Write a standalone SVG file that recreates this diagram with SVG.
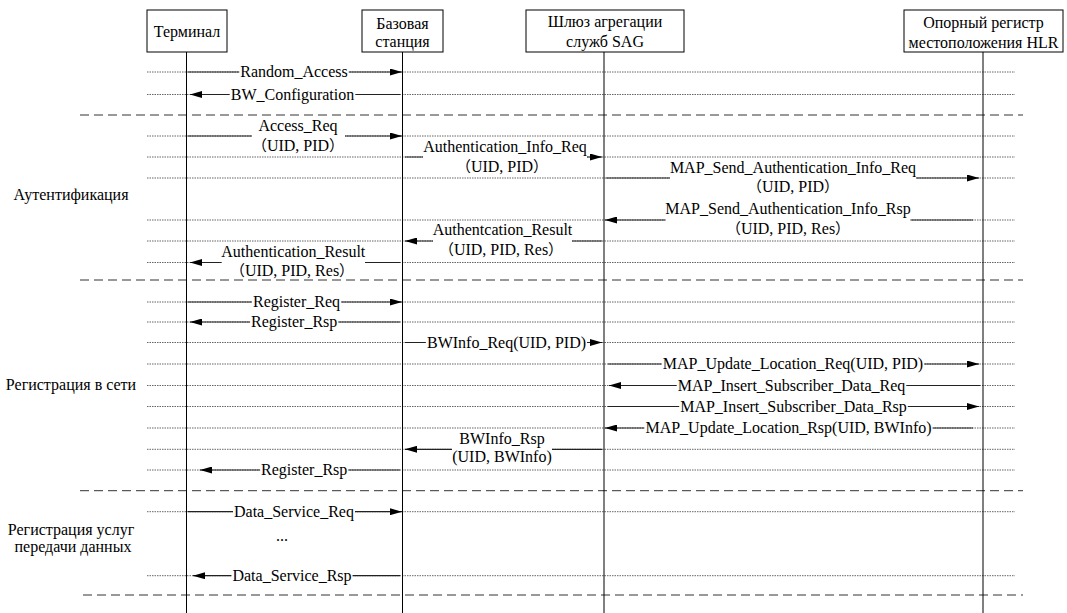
<svg xmlns="http://www.w3.org/2000/svg" width="1067" height="613" viewBox="0 0 1067 613">
<style>
.t{font-family:'Liberation Serif','Times New Roman',serif;font-size:16px;fill:#000;text-anchor:middle}
.c{font-family:'Noto Sans CJK SC',sans-serif;font-size:15px}
.box{fill:#fff;stroke:#000;stroke-width:1}
.life{stroke:#000;stroke-width:1}
.dot{stroke:#666;stroke-width:1;stroke-dasharray:1.5 1}
.dash{stroke:#333;stroke-width:1;stroke-dasharray:9 5}
.msg{stroke:#222;stroke-width:1.2;marker-end:url(#arr)}
.gap{fill:#fff}
</style>
<defs>
<marker id="arr" viewBox="0 0 12 7" refX="12" refY="3.5" markerWidth="12" markerHeight="7" markerUnits="userSpaceOnUse" orient="auto">
<path d="M0,0 L12,3.5 L0,7 z" fill="#000"/>
</marker>
</defs>
<rect width="1067" height="613" fill="#fff"/>
<g id="grid">
<line class="dot" x1="147" y1="72" x2="1015" y2="72"/>
<line class="dot" x1="147" y1="94.5" x2="1015" y2="94.5"/>
<line class="dot" x1="147" y1="136" x2="1015" y2="136"/>
<line class="dot" x1="147" y1="157" x2="1015" y2="157"/>
<line class="dot" x1="147" y1="178" x2="1015" y2="178"/>
<line class="dot" x1="147" y1="220" x2="1015" y2="220"/>
<line class="dot" x1="147" y1="241" x2="1015" y2="241"/>
<line class="dot" x1="147" y1="262.5" x2="1015" y2="262.5"/>
<line class="dot" x1="147" y1="302" x2="1015" y2="302"/>
<line class="dot" x1="147" y1="322" x2="1015" y2="322"/>
<line class="dot" x1="147" y1="342.5" x2="1015" y2="342.5"/>
<line class="dot" x1="147" y1="364" x2="1015" y2="364"/>
<line class="dot" x1="147" y1="385.5" x2="1015" y2="385.5"/>
<line class="dot" x1="147" y1="406.5" x2="1015" y2="406.5"/>
<line class="dot" x1="147" y1="428" x2="1015" y2="428"/>
<line class="dot" x1="147" y1="449.3" x2="1015" y2="449.3"/>
<line class="dot" x1="147" y1="470" x2="1015" y2="470"/>
<line class="dot" x1="147" y1="511.7" x2="1015" y2="511.7"/>
<line class="dot" x1="147" y1="575.7" x2="1015" y2="575.7"/>
<line class="dash" x1="80" y1="115" x2="1023" y2="115"/>
<line class="dash" x1="80" y1="280" x2="1023" y2="280"/>
<line class="dash" x1="80" y1="490.7" x2="1023" y2="490.7"/>
<line class="dash" x1="83" y1="595" x2="1023" y2="595"/>
</g>
<g id="lifelines">
<line class="life" x1="186.5" y1="52" x2="186.5" y2="613"/>
<line class="life" x1="402.5" y1="52" x2="402.5" y2="613"/>
<line class="life" x1="604" y1="52" x2="604" y2="613"/>
<line class="life" x1="983" y1="52" x2="983" y2="613"/>
</g>
<g id="connectors">
<g id="m-random-access"><line class="msg" x1="188" y1="72" x2="402" y2="72"/><rect class="gap" x="239.25" y="69" width="109.5" height="6"/><text class="t" x="294" y="77">Random_Access</text></g>
<g id="m-bw-configuration"><line class="msg" x1="400" y1="94.5" x2="190" y2="94.5"/><rect class="gap" x="229.7" y="91.5" width="125.6" height="6"/><text class="t" x="292.5" y="99.5">BW_Configuration</text></g>
<g id="m-access-req"><line class="msg" x1="188" y1="136" x2="402" y2="136"/><rect class="gap" x="252" y="133" width="93" height="6"/><text class="t" x="298" y="131">Access_Req</text><text class="t" x="298" y="151"><tspan class="c">（</tspan>UID, PID<tspan class="c">）</tspan></text></g>
<g id="m-auth-info-req"><line class="msg" x1="405" y1="157" x2="602" y2="157"/><rect class="gap" x="423" y="154" width="164" height="6"/><text class="t" x="505" y="152">Authentication_Info_Req</text><text class="t" x="502" y="172"><tspan class="c">（</tspan>UID, PID<tspan class="c">）</tspan></text></g>
<g id="m-map-send-req"><line class="msg" x1="606" y1="178" x2="979" y2="178"/><rect class="gap" x="670" y="175" width="246" height="6"/><text class="t" x="793" y="172.5">MAP_Send_Authentication_Info_Req</text><text class="t" x="793" y="192"><tspan class="c">（</tspan>UID, PID<tspan class="c">）</tspan></text></g>
<g id="m-map-send-rsp"><line class="msg" x1="973" y1="220" x2="605" y2="220"/><rect class="gap" x="665.5" y="217" width="245" height="6"/><text class="t" x="788" y="214">MAP_Send_Authentication_Info_Rsp</text><text class="t" x="788" y="234"><tspan class="c">（</tspan>UID, PID, Res<tspan class="c">）</tspan></text></g>
<g id="m-authentcation-result"><line class="msg" x1="602" y1="241" x2="405" y2="241"/><rect class="gap" x="433" y="238" width="139" height="6"/><text class="t" x="502.5" y="235">Authentcation_Result</text><text class="t" x="501" y="255"><tspan class="c">（</tspan>UID, PID, Res<tspan class="c">）</tspan></text></g>
<g id="m-authentication-result"><line class="msg" x1="400" y1="262.5" x2="190" y2="262.5"/><rect class="gap" x="221.7" y="259.5" width="143.3" height="6"/><text class="t" x="293.3" y="257">Authentication_Result</text><text class="t" x="292" y="276"><tspan class="c">（</tspan>UID, PID, Res<tspan class="c">）</tspan></text></g>
<g id="m-register-req"><line class="msg" x1="188" y1="302" x2="402" y2="302"/><rect class="gap" x="252" y="299" width="89.1" height="6"/><text class="t" x="296.5" y="307">Register_Req</text></g>
<g id="m-register-rsp-1"><line class="msg" x1="400" y1="322" x2="190" y2="322"/><rect class="gap" x="250.1" y="319" width="88.2" height="6"/><text class="t" x="294.2" y="327">Register_Rsp</text></g>
<g id="m-bwinfo-req"><line class="msg" x1="405" y1="342.5" x2="602" y2="342.5"/><rect class="gap" x="425.9" y="339.5" width="161.1" height="6"/><text class="t" x="506.5" y="347.5">BWInfo_Req(UID, PID)</text></g>
<g id="m-map-update-req"><line class="msg" x1="608" y1="364" x2="979" y2="364"/><rect class="gap" x="661.8" y="361" width="262.4" height="6"/><text class="t" x="793" y="369">MAP_Update_Location_Req(UID, PID)</text></g>
<g id="m-map-insert-req"><line class="msg" x1="980" y1="385.5" x2="609" y2="385.5"/><rect class="gap" x="676.75" y="382.5" width="229.5" height="6"/><text class="t" x="791.5" y="390.5">MAP_Insert_Subscriber_Data_Req</text></g>
<g id="m-map-insert-rsp"><line class="msg" x1="608" y1="406.5" x2="979" y2="406.5"/><rect class="gap" x="679.2" y="403.5" width="228.6" height="6"/><text class="t" x="793.5" y="411.5">MAP_Insert_Subscriber_Data_Rsp</text></g>
<g id="m-map-update-rsp"><line class="msg" x1="973" y1="428" x2="605" y2="428"/><rect class="gap" x="644.35" y="425" width="288.3" height="6"/><text class="t" x="788.5" y="433">MAP_Update_Location_Rsp(UID, BWInfo)</text></g>
<g id="m-bwinfo-rsp"><line class="msg" x1="602" y1="449.3" x2="405" y2="449.3"/><rect class="gap" x="452" y="446.3" width="100" height="6"/><text class="t" x="502" y="444">BWInfo_Rsp</text><text class="t" x="502" y="462">(UID, BWInfo)</text></g>
<g id="m-register-rsp-2"><line class="msg" x1="400" y1="470" x2="200" y2="470"/><rect class="gap" x="260.1" y="467" width="88.2" height="6"/><text class="t" x="304.2" y="475">Register_Rsp</text></g>
<g id="m-data-service-req"><line class="msg" x1="188" y1="511.7" x2="402" y2="511.7"/><rect class="gap" x="233" y="508.7" width="122" height="6"/><text class="t" x="294" y="516.7">Data_Service_Req</text></g>
<text class="t" x="282" y="541">...</text>
<g id="m-data-service-rsp"><line class="msg" x1="400" y1="575.7" x2="193" y2="575.7"/><rect class="gap" x="231.45" y="572.7" width="121.1" height="6"/><text class="t" x="292" y="580.7">Data_Service_Rsp</text></g>
</g>
<g id="node-terminal"><rect class="box" x="147" y="10" width="80" height="42"/><text class="t" x="187" y="37">Терминал</text></g>
<g id="node-bs"><rect class="box" x="362" y="10" width="81" height="42"/><text class="t" x="402.5" y="28.5">Базовая</text><text class="t" x="402.5" y="46.5">станция</text></g>
<g id="node-sag"><rect class="box" x="526" y="10" width="158" height="42"/><text class="t" x="605" y="27">Шлюз агрегации</text><text class="t" x="605" y="47">служб SAG</text></g>
<g id="node-hlr"><rect class="box" x="904" y="10" width="159" height="42"/><text class="t" x="983.5" y="28">Опорный регистр</text><text class="t" x="983.5" y="47.5">местоположения HLR</text></g>
<g id="sections">
<text class="t" x="71" y="200">Аутентификация</text>
<text class="t" x="71" y="390">Регистрация в сети</text>
<text class="t" x="71" y="535">Регистрация услуг</text>
<text class="t" x="73" y="552">передачи данных</text>
</g>
</svg>
